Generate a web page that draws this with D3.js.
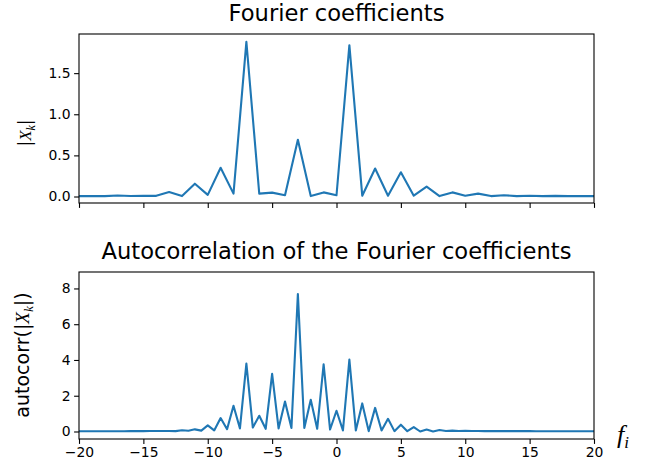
<!DOCTYPE html>
<html>
<head>
<meta charset="utf-8">
<script src="https://cdn.jsdelivr.net/npm/d3@7"></script>
<style>
body { margin: 0; background: #fff; }
svg text { font-family: "DejaVu Sans", sans-serif; fill: #000; }
</style>
</head>
<body>
<div id="chart"></div>
<script>
// Fourier coefficient magnitudes |X_k| at integer frequencies
const coefFreq = [-20, -19, -18, -17, -16, -15, -14, -13, -12, -11, -10, -9, -8, -7, -6, -5, -4, -3, -2, -1,
    0, 1, 2, 3, 4, 5, 6, 7, 8, 9, 10, 11, 12, 13, 14, 15, 16, 17, 18, 19, 20];
const coefValues = [0.005, 0.005, 0.005, 0.012, 0.006, 0.01, 0.008, 0.055, 0.005, 0.156, 0.02, 0.35, 0.035, 1.88, 0.035, 0.047, 0.015, 0.69, 0.005, 0.05,
    0.015, 1.84, 0.01, 0.34, 0.01, 0.295, 0.01, 0.12, 0.005, 0.05, 0.01, 0.035, 0.005, 0.015, 0.005, 0.01, 0.005, 0.008, 0.005, 0.005, 0.005];

// autocorrelation, sampled every half step
const lagFreq = [-20, -19.5, -19, -18.5, -18, -17.5, -17, -16.5, -16, -15.5, -15, -14.5, -14, -13.5, -13, -12.5, -12, -11.5, -11, -10.5,
    -10, -9.5, -9, -8.5, -8, -7.5, -7, -6.5, -6, -5.5, -5, -4.5, -4, -3.5, -3, -2.5, -2, -1.5, -1, -0.5,
    0, 0.5, 1, 1.5, 2, 2.5, 3, 3.5, 4, 4.5, 5, 5.5, 6, 6.5, 7, 7.5, 8, 8.5, 9, 9.5,
    10, 10.5, 11, 11.5, 12, 12.5, 13, 13.5, 14, 14.5, 15, 15.5, 16, 16.5, 17, 17.5, 18, 18.5, 19, 19.5, 20];
const autocorrValues = [0.01, 0.01, 0.01, 0.01, 0.012, 0.012, 0.015, 0.015, 0.02, 0.02, 0.02, 0.025, 0.025, 0.03, 0.03, 0.02, 0.07, 0.04, 0.12, 0.05,
    0.34, 0.06, 0.75, 0.13, 1.44, 0.17, 3.8, 0.22, 0.88, 0.15, 3.22, 0.17, 1.68, 0.2, 7.69, 0.2, 1.77, 0.15, 3.76, 0.11,
    1.16, 0.06, 4.02, 0.06, 1.57, 0.02, 1.32, 0.06, 0.71, 0.02, 0.38, 0.02, 0.25, 0.0, 0.11, 0.0, 0.08, 0.03, 0.05, 0.03,
    0.04, 0.025, 0.03, 0.02, 0.025, 0.02, 0.02, 0.02, 0.02, 0.018, 0.018, 0.015, 0.015, 0.015, 0.012, 0.012, 0.01, 0.01, 0.01, 0.01, 0.01];

const xTicks = [-20, -15, -10, -5, 0, 5, 10, 15, 20];
const coefTicks = [0.0, 0.5, 1.0, 1.5];
const autocorrTicks = [0, 2, 4, 6, 8];

const width = 650, height = 466;
const left = 79, right = 594;
const lineColor = "#1f77b4";

const svg = d3.select("#chart").append("svg")
    .attr("width", width)
    .attr("height", height);

const x = d3.scaleLinear().domain([-20, 20]).range([left, right]);

function drawPanel(cfg) {
    const y = d3.scaleLinear().domain(cfg.yDomain).range([cfg.bottom, cfg.top]);

    const xAxis = d3.axisBottom(x).tickValues(xTicks).tickSizeOuter(0).tickSize(4.9).tickPadding(3.5);
    if (!cfg.showXLabels) xAxis.tickFormat("");

    const gx = svg.append("g")
        .attr("transform", `translate(0, ${cfg.bottom})`)
        .call(xAxis);
    gx.select(".domain").remove();

    const gy = svg.append("g")
        .attr("transform", `translate(${left}, 0)`)
        .call(d3.axisLeft(y).tickValues(cfg.yTicks).tickFormat(cfg.yFormat).tickSizeOuter(0).tickSize(4.9).tickPadding(3.5));
    gy.select(".domain").remove();

    svg.selectAll(".tick line").attr("stroke", "#000").attr("stroke-width", 1.1);
    svg.selectAll(".tick text").style("font-size", "13.9px").attr("fill", "#000");

    const line = d3.line()
        .x(d => x(d[0]))
        .y(d => y(d[1]));

    svg.append("path")
        .datum(d3.zip(cfg.xs, cfg.ys))
        .attr("fill", "none")
        .attr("stroke", lineColor)
        .attr("stroke-width", 2.1)
        .attr("stroke-linejoin", "round")
        .attr("d", line);

    svg.append("rect")
        .attr("x", left)
        .attr("y", cfg.top)
        .attr("width", right - left)
        .attr("height", cfg.bottom - cfg.top)
        .attr("fill", "none")
        .attr("stroke", "#000")
        .attr("stroke-width", 1.1);

    svg.append("text")
        .attr("x", (left + right) / 2)
        .attr("y", cfg.top - 13)
        .attr("text-anchor", "middle")
        .style("font-size", "22.6px")
        .text(cfg.title);

    // y label with a bit of math-style italic
    const yl = svg.append("text")
        .attr("transform", `translate(${cfg.yLabelX}, ${cfg.yLabelY}) rotate(-90)`)
        .attr("text-anchor", "middle")
        .style("font-size", cfg.yLabelSize + "px");
    yl.append("tspan").text(cfg.yLabelPrefix + "|");
    yl.append("tspan").style("font-family", "'Liberation Serif', serif").style("font-style", "italic").text("X");
    yl.append("tspan").attr("dy", 4).style("font-family", "'Liberation Serif', serif").style("font-style", "italic")
        .style("font-size", (cfg.yLabelSize * 0.7) + "px").text("k");
    yl.append("tspan").attr("dy", -4).text("|" + cfg.yLabelSuffix);
}

drawPanel({
    top: 34, bottom: 203,
    yDomain: [-0.079, 1.976],
    yTicks: coefTicks,
    yFormat: d3.format(".1f"),
    xs: coefFreq, ys: coefValues,
    title: "Fourier coefficients",
    showXLabels: false,
    yLabelX: 31, yLabelY: 133, yLabelSize: 17,
    yLabelPrefix: "", yLabelSuffix: ""
});

drawPanel({
    top: 272, bottom: 439,
    yDomain: [-0.42, 8.92],
    yTicks: autocorrTicks,
    yFormat: d3.format("d"),
    xs: lagFreq, ys: autocorrValues,
    title: "Autocorrelation of the Fourier coefficients",
    showXLabels: true,
    yLabelX: 29, yLabelY: 355, yLabelSize: 19,
    yLabelPrefix: "autocorr(", yLabelSuffix: ")"
});

// f_i label near the x axis end
const fl = svg.append("text")
    .attr("x", 617)
    .attr("y", 443)
    .style("font-family", "'Liberation Serif', serif")
    .style("font-style", "italic")
    .style("font-size", "26px");
fl.append("tspan").text("f");
fl.append("tspan").attr("dy", 5).style("font-size", "17px").text("i");
</script>
</body>
</html>
